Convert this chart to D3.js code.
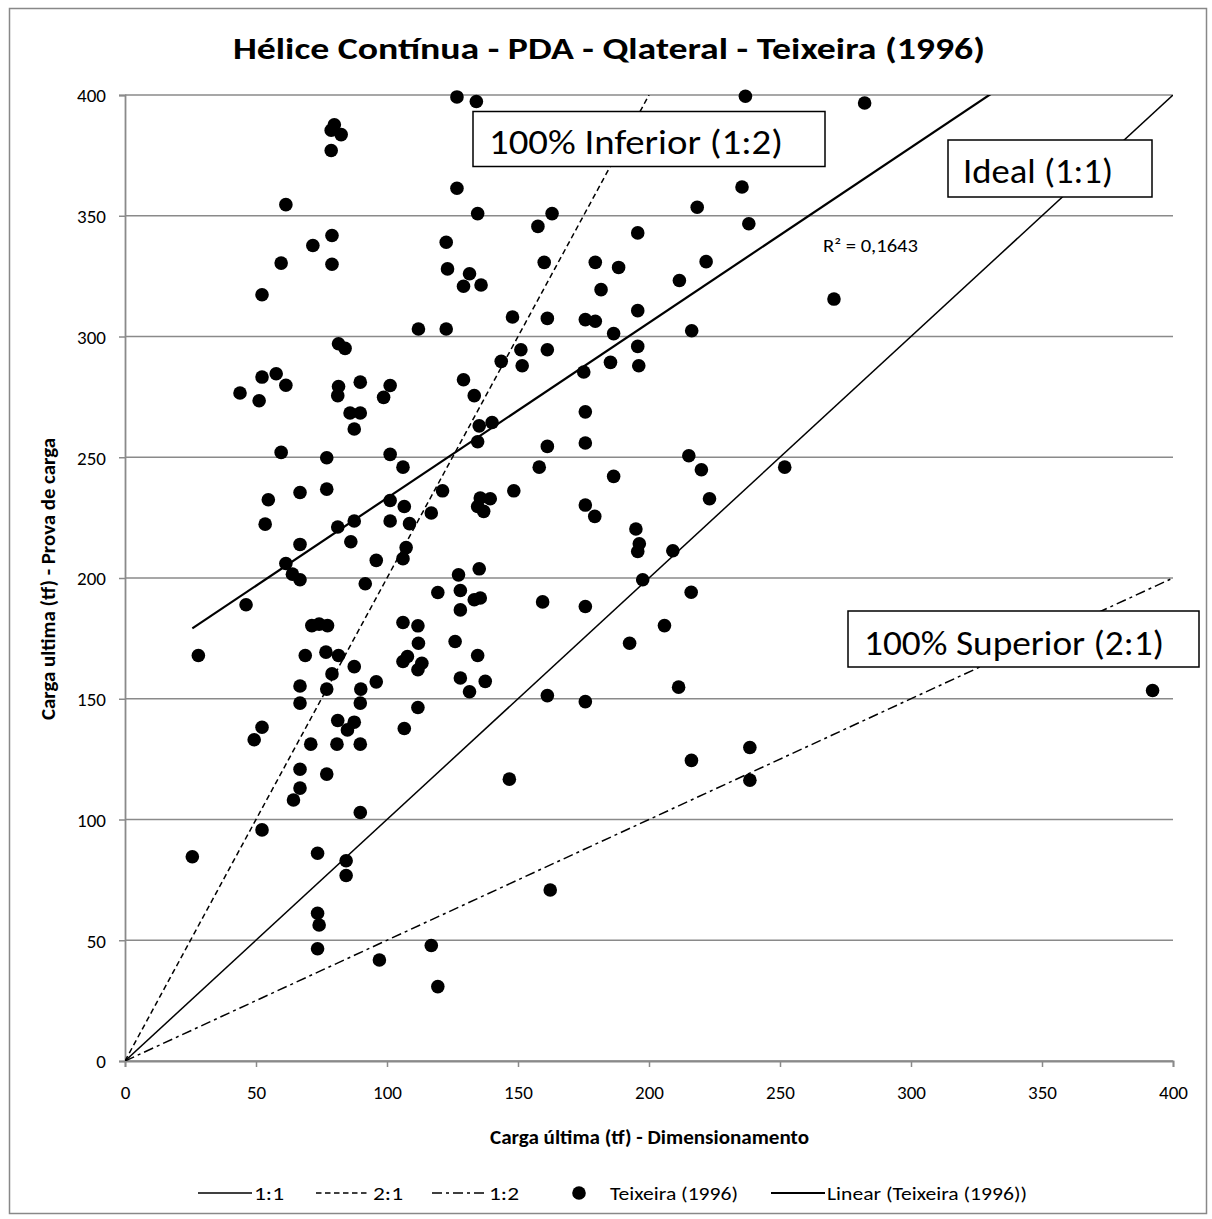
<!DOCTYPE html>
<html>
<head>
<meta charset="utf-8">
<script src="https://cdn.jsdelivr.net/npm/d3@7"></script>
<style>
  html, body { margin: 0; padding: 0; background: #fff; }
  svg { display: block; }
  text { font-family: Carlito, Calibri, Lato, sans-serif; fill: #000; }
</style>
</head>
<body>
<svg id="chart" width="1212" height="1219"></svg>
<script>
// Carga última (tf) – dimensionamento (Teixeira, 1996) vs. prova de carga (PDA)
const dimensionamento = [
  79.9, 78.7, 82.5, 78.7, 61.4, 79.0, 71.7, 59.6, 79.0, 52.3, 112.0, 81.5, 84.0, 52.3, 57.7, 61.4, 43.9, 81.5, 89.8, 101.2,
  51.2, 81.2, 98.7, 85.9, 89.8, 87.5, 59.6, 77.0, 101.2, 106.1, 54.7, 66.8, 77.0, 101.2, 106.6, 53.5, 81.2, 87.5, 101.2, 108.6,
  66.8, 86.2, 107.3, 106.1, 95.9, 61.4, 63.9, 66.8, 46.2, 91.7, 71.3, 74.1, 77.3, 106.1, 111.8, 28.0, 68.8, 76.7, 81.5, 87.5,
  106.1, 107.8, 112.0, 111.8, 79.0, 95.9,
  66.8, 77.0, 90.0, 66.8, 89.8, 111.8, 52.3, 49.3, 81.2, 87.5, 84.9, 106.6, 70.9, 80.9, 89.8, 66.8, 77.0, 66.8, 64.3, 89.8,
  52.3, 25.7, 73.5, 84.4, 84.4, 73.5, 74.1, 73.5, 97.1,
  126.7, 134.1, 126.7, 134.6, 163.0, 157.6, 195.7, 218.4, 122.6, 123.1, 131.5, 129.2, 135.9, 160.0, 179.5, 188.4, 181.7, 221.8,
  211.6, 122.6, 147.9, 161.2, 175.7, 179.5, 195.7, 216.3, 186.5, 151.1, 161.2, 143.6, 151.6, 195.7, 185.3, 196.1, 129.2, 175.1,
  133.3, 135.2, 140.1, 134.6, 175.7, 175.7, 161.2, 158.1, 186.5, 215.2, 220.0, 121.2, 135.6, 139.4, 134.6, 136.9, 148.4, 116.9,
  175.7, 179.3, 195.0, 196.3, 195.7, 209.1, 197.6, 216.1, 135.2, 127.3, 119.4, 128.0, 133.3, 135.6, 128.0, 159.4, 175.7, 126.0,
  134.6, 205.9, 192.6, 113.3, 128.0, 137.5,
  131.5, 161.2, 175.7, 211.3, 216.2, 146.7, 162.3, 116.9, 119.4,
  236.8, 282.3, 235.5, 238.1, 270.6,
  223.1, 251.8, 392.2, 238.5, 238.5
];
const provaCarga = [
  387.7, 385.4, 383.6, 377.0, 354.6, 341.8, 337.7, 330.4, 329.9, 317.3, 303.1, 297.0, 295.1, 283.2, 284.6, 279.8, 276.6, 279.3, 281.1, 279.7,
  273.4, 275.5, 274.8, 268.3, 268.3, 261.7, 252.0, 249.8, 251.2, 245.9, 232.4, 235.4, 236.8, 232.1, 229.6, 222.3, 221.1, 223.6, 223.6, 222.5,
  213.9, 215.0, 212.6, 208.0, 207.3, 206.0, 201.6, 199.3, 188.9, 197.6, 180.3, 180.9, 180.3, 181.6, 180.2, 167.9, 167.9, 169.3, 167.9, 163.3,
  165.4, 167.5, 173.0, 162.0, 160.3, 157.0,
  155.3, 154.0, 154.0, 148.2, 148.2, 146.4, 138.2, 133.0, 141.0, 140.3, 137.1, 137.7, 131.2, 131.2, 131.2, 120.8, 118.8, 113.0, 108.1, 102.9,
  95.7, 84.6, 86.0, 82.9, 76.8, 61.2, 56.3, 46.5, 41.8,
  399.2, 397.3, 361.4, 350.9, 350.9, 345.6, 342.9, 353.5, 339.0, 328.0, 326.0, 320.8, 321.3, 330.7, 330.7, 328.6, 319.4, 331.0,
  323.2, 303.1, 308.1, 307.5, 307.0, 306.3, 310.7, 302.4, 301.2, 294.5, 294.5, 289.7, 287.9, 295.9, 289.3, 287.9, 282.1, 285.3,
  275.5, 263.0, 264.4, 256.4, 268.8, 255.9, 254.5, 245.9, 242.1, 250.6, 244.8, 236.1, 233.1, 232.8, 229.6, 227.6, 236.1, 226.9,
  230.2, 225.5, 220.3, 214.2, 211.0, 211.3, 199.3, 194.1, 203.8, 201.3, 194.0, 194.8, 191.0, 191.7, 186.8, 190.1, 188.2, 173.7,
  167.9, 180.3, 173.0, 164.7, 158.6, 157.2,
  152.9, 151.3, 148.8, 154.8, 124.5, 116.7, 70.8, 47.8, 30.8,
  399.5, 396.7, 361.9, 346.7, 315.5,
  232.8, 245.9, 153.4, 129.8, 116.3
];

// axis ticks (tf)
const xTickValues = [0, 50, 100, 150, 200, 250, 300, 350, 400];
const yTickValues = [0, 50, 100, 150, 200, 250, 300, 350, 400];

// reference lines: prova = ratio × dimensionamento
const refNames  = ["1:1", "2:1", "1:2"];
const refRatios = [1, 2, 0.5];

// linear trend of the series
const trendSlope = 0.726;
const trendIntercept = 160.5;
const trendR2 = "0,1643";

const svg = d3.select("#chart");
svg.append("rect").attr("width", 1212).attr("height", 1219).attr("fill", "#fff");

// chart frame
svg.append("rect")
  .attr("x", 9.5).attr("y", 8.5).attr("width", 1197).attr("height", 1205)
  .attr("fill", "none").attr("stroke", "#888").attr("stroke-width", 1.5);

const x = d3.scaleLinear().domain([0, 400]).range([125, 1173]);
const y = d3.scaleLinear().domain([0, 400]).range([1061, 95]);

const gridColor = "#8a8a8a";

// horizontal gridlines
svg.append("g").selectAll("line").data(yTickValues).join("line")
  .attr("x1", x(0)).attr("x2", x(400))
  .attr("y1", d => y(d)).attr("y2", d => y(d))
  .attr("stroke", gridColor).attr("stroke-width", 1.6);

// y axis
const yAxis = svg.append("g").attr("transform", `translate(${x(0)},0)`)
  .call(d3.axisLeft(y).tickValues(yTickValues).tickSize(6).tickPadding(14).tickFormat(d3.format("d")));
yAxis.select(".domain").attr("stroke", gridColor).attr("stroke-width", 1.8);
yAxis.selectAll(".tick line").attr("stroke", gridColor).attr("stroke-width", 1.5);
yAxis.selectAll(".tick text").attr("font-size", 19).attr("font-family", "Carlito, Calibri, Lato, sans-serif")
  .attr("dy", "0.36em").attr("x", -19);

// x axis
const xAxis = svg.append("g").attr("transform", `translate(0,${y(0)})`)
  .call(d3.axisBottom(x).tickValues(xTickValues).tickSize(6).tickPadding(14).tickFormat(d3.format("d")));
xAxis.select(".domain").attr("stroke", gridColor).attr("stroke-width", 1.8);
xAxis.selectAll(".tick line").attr("stroke", gridColor).attr("stroke-width", 1.5);
xAxis.selectAll(".tick text").attr("font-size", 19).attr("font-family", "Carlito, Calibri, Lato, sans-serif")
  .attr("dy", 0).attr("y", 38);

// plot-area clip
svg.append("clipPath").attr("id", "plotClip")
  .append("rect").attr("x", x(0)).attr("y", y(400))
  .attr("width", x(400) - x(0)).attr("height", y(0) - y(400));

const dashes = { "1:1": null, "2:1": "5.5,3.5", "1:2": "10,4,3,4" };

const plot = svg.append("g").attr("clip-path", "url(#plotClip)");

// reference lines
refNames.forEach((name, i) => {
  const r = refRatios[i];
  const xEnd = Math.min(400, 400 / r);
  plot.append("line")
    .attr("x1", x(0)).attr("y1", y(0))
    .attr("x2", x(xEnd)).attr("y2", y(xEnd * r))
    .attr("stroke", "#000").attr("stroke-width", 1.5)
    .attr("stroke-dasharray", dashes[name]);
});

// trend line over the data range
const xMin = d3.min(dimensionamento), xMax = d3.max(dimensionamento);
plot.append("line")
  .attr("x1", x(xMin)).attr("y1", y(trendSlope * xMin + trendIntercept))
  .attr("x2", x(xMax)).attr("y2", y(trendSlope * xMax + trendIntercept))
  .attr("stroke", "#000").attr("stroke-width", 2.2);

// data points
const points = dimensionamento.map((d, i) => ({ x: d, y: provaCarga[i] }));
svg.append("g").selectAll("circle").data(points).join("circle")
  .attr("cx", d => x(d.x)).attr("cy", d => y(d.y)).attr("r", 6.8)
  .attr("fill", "#000");

// R² of the trend
svg.append("text").attr("x", 823).attr("y", 252)
  .attr("font-size", 18).attr("textLength", 95).attr("lengthAdjust", "spacingAndGlyphs")
  .text(`R² = ${trendR2}`);

// boxed annotations
const boxes = [
  { label: "100% Inferior (1:2)", bx: 473, by: 111.5, bw: 352, bh: 55, tx: 489, ty: 154, tw: 294 },
  { label: "Ideal (1:1)",        bx: 948, by: 140, bw: 204, bh: 57, tx: 963, ty: 183, tw: 150 },
  { label: "100% Superior (2:1)", bx: 848, by: 611, bw: 351, bh: 56, tx: 864, ty: 655, tw: 300 }
];
const boxG = svg.append("g");
boxes.forEach(b => {
  boxG.append("rect").attr("x", b.bx).attr("y", b.by).attr("width", b.bw).attr("height", b.bh)
    .attr("fill", "#fff").attr("stroke", "#000").attr("stroke-width", 1.5);
  boxG.append("text").attr("x", b.tx).attr("y", b.ty)
    .attr("font-size", 34).attr("textLength", b.tw).attr("lengthAdjust", "spacingAndGlyphs")
    .text(b.label);
});

// title
svg.append("text").attr("x", 233).attr("y", 59)
  .attr("font-size", 31).attr("font-weight", "bold")
  .attr("textLength", 752).attr("lengthAdjust", "spacingAndGlyphs")
  .text("Hélice Contínua - PDA - Qlateral - Teixeira (1996)");

// axis titles
svg.append("text").attr("x", 490).attr("y", 1144)
  .attr("font-size", 20).attr("font-weight", "bold")
  .attr("textLength", 319).attr("lengthAdjust", "spacingAndGlyphs")
  .text("Carga última (tf) - Dimensionamento");

svg.append("text").attr("transform", "translate(55,720) rotate(-90)")
  .attr("font-size", 20).attr("font-weight", "bold")
  .attr("textLength", 282).attr("lengthAdjust", "spacingAndGlyphs")
  .text("Carga ultima (tf) - Prova de carga");

// legend
const legY = 1193;
const leg = svg.append("g");
const legendItems = [
  { type: "line", dash: dashes["1:1"], w: 1.5, x1: 198, x2: 252, label: "1:1", tx: 254, tw: 30 },
  { type: "line", dash: dashes["2:1"], w: 1.5, x1: 316, x2: 370, label: "2:1", tx: 373, tw: 30 },
  { type: "line", dash: dashes["1:2"], w: 1.5, x1: 432, x2: 486, label: "1:2", tx: 489, tw: 30 },
  { type: "dot", cx: 579, label: "Teixeira (1996)", tx: 610, tw: 128 },
  { type: "line", dash: null, w: 2.2, x1: 771, x2: 825, label: "Linear (Teixeira (1996))", tx: 827, tw: 200 }
];
legendItems.forEach(it => {
  if (it.type === "line") {
    leg.append("line").attr("x1", it.x1).attr("x2", it.x2).attr("y1", legY).attr("y2", legY)
      .attr("stroke", "#000").attr("stroke-width", it.w).attr("stroke-dasharray", it.dash);
  } else {
    leg.append("circle").attr("cx", it.cx).attr("cy", legY).attr("r", 6.8).attr("fill", "#000");
  }
  leg.append("text").attr("x", it.tx).attr("y", legY + 7)
    .attr("font-size", 19).attr("textLength", it.tw).attr("lengthAdjust", "spacingAndGlyphs")
    .text(it.label);
});
</script>
</body>
</html>
